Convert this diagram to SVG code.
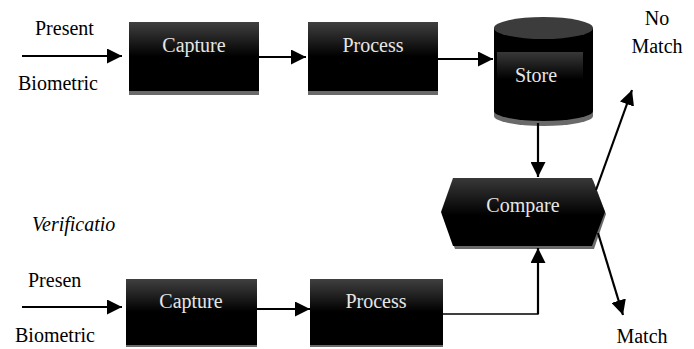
<svg xmlns="http://www.w3.org/2000/svg" width="694" height="349" viewBox="0 0 694 349">
<style>
.lbl{fill:#000}
.wt{fill:#e6e6e6}
.shadow{fill:#6a6a6a}
.box{fill:url(#g1)}
.con{stroke:#000;stroke-width:2.2;fill:none}
.thin{stroke:#000;stroke-width:1.4;fill:none}
</style>
<defs>
<linearGradient id="g1" x1="0" y1="0" x2="0" y2="1">
<stop offset="0" stop-color="#404040"/>
<stop offset="0.5" stop-color="#000"/>
<stop offset="1" stop-color="#000"/>
</linearGradient>
<linearGradient id="g2" x1="0" y1="0" x2="0" y2="1">
<stop offset="0" stop-color="#383838"/>
<stop offset="0.55" stop-color="#000"/>
<stop offset="1" stop-color="#000"/>
</linearGradient>
<marker id="ah" viewBox="0 0 10 10" refX="10" refY="5" markerWidth="15" markerHeight="15" orient="auto" markerUnits="userSpaceOnUse">
<path d="M0,0 L10,5 L0,10 z" fill="#000"/>
</marker>
</defs>

<g font-family="Liberation Serif, Times New Roman, DejaVu Serif, serif" font-size="20">
<g id="labels">
<text class="lbl" x="35" y="35">Present</text>
<text class="lbl" x="18" y="90">Biometric</text>
<text class="lbl" x="657" y="25" text-anchor="middle">No</text>
<text class="lbl" x="657" y="53" text-anchor="middle">Match</text>
<text class="lbl" x="32" y="231" font-style="italic">Verificatio</text>
<text class="lbl" x="28" y="287">Presen</text>
<text class="lbl" x="15" y="342">Biometric</text>
<text class="lbl" x="642" y="343" text-anchor="middle">Match</text>
</g>

<g id="capture1">
<rect class="shadow" x="129" y="25" width="130" height="70"/>
<rect class="box" x="129" y="22" width="130" height="69"/>
<text class="wt" x="194" y="52" text-anchor="middle">Capture</text>
</g>

<g id="process1">
<rect class="shadow" x="308" y="25" width="130" height="70"/>
<rect class="box" x="308" y="22" width="130" height="69"/>
<text class="wt" x="373" y="52" text-anchor="middle">Process</text>
</g>

<g id="store">
<path class="shadow" d="M494,30 V116 A49.5,10 0 0 0 593,116 V30 z"/>
<path fill="#000" d="M494,28 V111 A49.5,10 0 0 0 593,111 V28 z"/>
<rect x="497" y="52" width="86" height="50" fill="url(#g2)"/>
<ellipse cx="543.5" cy="28" rx="49.5" ry="11" fill="#3c3c3c"/>
<text class="wt" x="536" y="82" text-anchor="middle">Store</text>
</g>

<g id="compare">
<polygon class="shadow" points="442,214 454,180 593,180 606,214 594,249 455,249"/>
<polygon fill="url(#g2)" points="441,212 453,178 592,178 605,212 592,246 453,246"/>
<text class="wt" x="523" y="212" text-anchor="middle">Compare</text>
</g>

<g id="capture2">
<rect class="shadow" x="126" y="279" width="131" height="68"/>
<rect class="box" x="126" y="279" width="131" height="66"/>
<text class="wt" x="191" y="308" text-anchor="middle">Capture</text>
</g>

<g id="process2">
<rect class="shadow" x="310" y="279" width="133" height="68"/>
<rect class="box" x="310" y="279" width="133" height="66"/>
<text class="wt" x="376" y="308" text-anchor="middle">Process</text>
</g>
</g>

<g id="connectors">
<line class="con" x1="22" y1="56" x2="122" y2="56" marker-end="url(#ah)"/>
<line class="con" x1="259" y1="57" x2="306" y2="57" marker-end="url(#ah)"/>
<line class="con" x1="438" y1="59" x2="493" y2="59" marker-end="url(#ah)"/>
<line class="con" x1="538" y1="123" x2="538" y2="177" marker-end="url(#ah)"/>
<polyline class="thin" points="443,314 538,314 538,300"/>
<line class="con" x1="538" y1="314" x2="538" y2="248" marker-end="url(#ah)"/>
<line class="con" x1="596" y1="190" x2="632" y2="90" marker-end="url(#ah)"/>
<line class="con" x1="598" y1="233" x2="623" y2="315" marker-end="url(#ah)"/>
<line class="con" x1="22" y1="307" x2="122" y2="307" marker-end="url(#ah)"/>
<line class="con" x1="257" y1="309" x2="310" y2="309" marker-end="url(#ah)"/>
</g>
</svg>
